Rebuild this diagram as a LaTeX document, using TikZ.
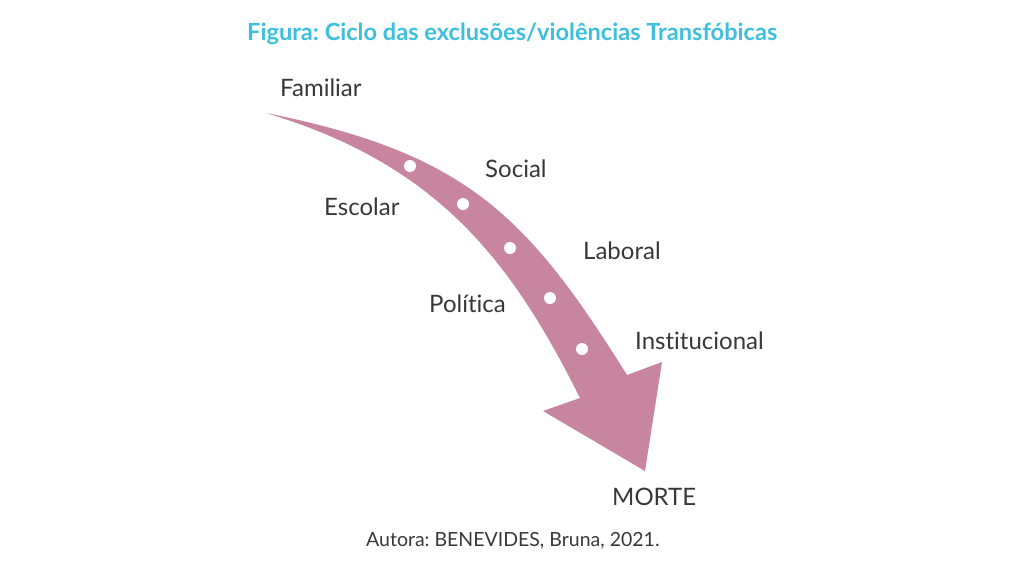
\documentclass[tikz,border=0pt]{standalone}
\usepackage{fontspec}
\setmainfont{Lato}[Ligatures={NoCommon,NoRare}]
\usepackage{xcolor}
\usepackage{tikz}
\definecolor{titlecyan}{HTML}{3DBFDD}
\definecolor{arrowpink}{HTML}{C8859F}
\definecolor{labelgray}{HTML}{383838}
\frenchspacing
\tikzset{
    label text/.style={inner sep=0pt, anchor=base west, text=labelgray, font=\fontsize{24}{28}\selectfont},
    dot/.style={fill=white}
}

\begin{document}
\begin{tikzpicture}[x=1pt, y=-1pt]
    \useasboundingbox (0,0) rectangle (1024,574);
    % title
    \node[inner sep=0pt, anchor=base west, text=titlecyan, font=\fontsize{23.6}{28}\selectfont\bfseries] (title) at (247,40) {Figura: Ciclo das exclusões/violências Transfóbicas};
    % curved arrow
    \coordinate (tail) at (266,113);
    \coordinate (neckR) at (627,375);
    \coordinate (headR) at (662,362);
    \coordinate (tip) at (645,471);
    \coordinate (headL) at (543,411);
    \coordinate (neckL) at (580,398);
    \fill[arrowpink] (tail) .. controls (466,153) and (527,215) .. (neckR)
        -- (headR) -- (tip) -- (headL) -- (neckL)
        .. controls (510,258) and (436,164) .. (tail) -- cycle;
    \foreach \x/\y in {410/166, 463/204, 510/248, 550/298, 582/349}
        \fill[dot] (\x,\y) circle (6);
    % labels
    \node[label text] (familiar) at (280,96) {Familiar};
    \node[label text] (social) at (485,177) {Social};
    \node[label text] (escolar) at (324,215) {Escolar};
    \node[label text] (laboral) at (583,259) {Laboral};
    \node[label text] (politica) at (429,312) {Política};
    \node[label text] (institucional) at (635,349) {Institucional};
    \node[label text] (morte) at (612,505) {MORTE};
    % source
    \node[inner sep=0pt, anchor=base west, text=labelgray, font=\fontsize{19.5}{23}\selectfont] (autora) at (366,546) {Autora: BENEVIDES, Bruna, 2021.};
\end{tikzpicture}
\end{document}
